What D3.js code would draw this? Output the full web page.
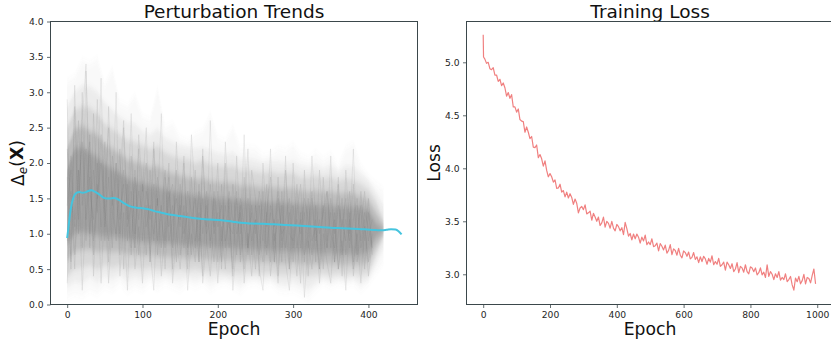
<!DOCTYPE html>
<html>
<head>
<meta charset="utf-8">
<script src="https://cdn.jsdelivr.net/npm/d3@7"></script>
<style>
  body { margin: 0; background: #fff; }
  svg { display: block; font-family: 'DejaVu Sans', sans-serif; }
  .axis text { fill: #262626; font-size: 9.2px; font-family: 'DejaVu Sans', sans-serif; }
  .axis line { stroke: #3b474b; stroke-width: 0.8; }
</style>
</head>
<body>
<div id="chart"></div>
<script>
// ---- perturbation panel: spread of the per-sample curves ----
const bandEpochs = [0, 10, 20, 30, 40, 50, 60, 70, 80, 90, 100, 110, 120, 130, 140, 150, 160, 170, 180, 190,
  200, 210, 220, 230, 240, 250, 260, 270, 280, 290, 300, 310, 320, 330, 340, 350, 360, 370, 380, 390, 400, 410, 420];
const maxEnv = [3.15, 3.22, 3.45, 3.40, 3.47, 3.10, 3.32, 2.85, 2.80, 2.95, 2.65, 2.60, 3.04, 2.50, 2.55, 2.35, 2.30, 2.40, 2.45, 2.68,
  2.35, 2.30, 2.50, 2.20, 2.22, 2.20, 2.10, 2.12, 2.20, 2.17, 2.25, 2.10, 2.05, 2.15, 2.05, 2.12, 1.95, 2.20, 2.26, 1.95, 1.80, 1.70, 1.62];
const hi95 = [2.80, 3.00, 3.10, 3.08, 3.00, 2.85, 2.75, 2.65, 2.58, 2.55, 2.45, 2.40, 2.48, 2.35, 2.30, 2.24, 2.22, 2.20, 2.22, 2.18,
  2.14, 2.12, 2.15, 2.06, 2.06, 2.04, 2.00, 2.02, 2.02, 2.00, 2.02, 1.96, 1.94, 1.98, 1.92, 1.96, 1.88, 1.96, 1.95, 1.84, 1.75, 1.58, 1.40];
const hi90 = [2.50, 2.75, 2.80, 2.78, 2.70, 2.55, 2.48, 2.40, 2.32, 2.30, 2.25, 2.20, 2.24, 2.15, 2.10, 2.06, 2.05, 2.00, 2.04, 1.98,
  1.96, 1.95, 1.96, 1.90, 1.90, 1.88, 1.86, 1.88, 1.85, 1.85, 1.86, 1.80, 1.80, 1.82, 1.78, 1.80, 1.75, 1.78, 1.76, 1.70, 1.62, 1.45, 1.20];
const hi80 = [2.20, 2.48, 2.52, 2.46, 2.40, 2.26, 2.20, 2.13, 2.05, 2.02, 1.98, 1.94, 1.95, 1.89, 1.85, 1.82, 1.80, 1.77, 1.78, 1.75,
  1.73, 1.72, 1.72, 1.68, 1.68, 1.67, 1.65, 1.66, 1.65, 1.64, 1.64, 1.61, 1.60, 1.61, 1.59, 1.60, 1.57, 1.58, 1.57, 1.53, 1.48, 1.30, 1.12];
const hi70 = [1.90, 2.20, 2.22, 2.15, 2.08, 1.98, 1.92, 1.86, 1.78, 1.74, 1.72, 1.68, 1.66, 1.63, 1.60, 1.58, 1.56, 1.54, 1.53, 1.52,
  1.50, 1.50, 1.49, 1.47, 1.46, 1.46, 1.45, 1.45, 1.45, 1.44, 1.43, 1.42, 1.41, 1.41, 1.40, 1.40, 1.39, 1.39, 1.38, 1.37, 1.34, 1.15, 1.05];
const lo30 = [0.85, 1.00, 1.02, 1.00, 0.98, 0.96, 0.96, 0.94, 0.92, 0.90, 0.88, 0.88, 0.86, 0.86, 0.85, 0.84, 0.83, 0.82, 0.82, 0.81,
  0.80, 0.80, 0.79, 0.78, 0.78, 0.77, 0.77, 0.76, 0.75, 0.75, 0.74, 0.74, 0.73, 0.73, 0.72, 0.72, 0.71, 0.71, 0.70, 0.70, 0.75, 0.95, 1.05];
const lo20 = [0.62, 0.75, 0.77, 0.78, 0.74, 0.76, 0.74, 0.75, 0.71, 0.71, 0.69, 0.70, 0.68, 0.68, 0.66, 0.67, 0.65, 0.66, 0.65, 0.63,
  0.64, 0.63, 0.62, 0.61, 0.62, 0.61, 0.60, 0.60, 0.58, 0.58, 0.59, 0.58, 0.56, 0.57, 0.58, 0.57, 0.57, 0.56, 0.57, 0.56, 0.60, 0.82, 1.00];
const lo10 = [0.40, 0.50, 0.52, 0.55, 0.50, 0.55, 0.52, 0.55, 0.50, 0.52, 0.50, 0.52, 0.50, 0.50, 0.48, 0.50, 0.48, 0.50, 0.48, 0.46,
  0.48, 0.46, 0.45, 0.44, 0.46, 0.45, 0.44, 0.45, 0.42, 0.42, 0.44, 0.42, 0.40, 0.42, 0.44, 0.42, 0.44, 0.42, 0.44, 0.42, 0.45, 0.70, 0.95];
const lo5 = [0.25, 0.32, 0.30, 0.38, 0.32, 0.40, 0.36, 0.42, 0.34, 0.38, 0.35, 0.40, 0.36, 0.40, 0.36, 0.35, 0.38, 0.36, 0.38, 0.33,
  0.36, 0.37, 0.34, 0.30, 0.36, 0.37, 0.34, 0.36, 0.30, 0.28, 0.32, 0.28, 0.22, 0.30, 0.36, 0.33, 0.36, 0.34, 0.36, 0.30, 0.36, 0.58, 0.80];
const minEnv = [0.10, 0.15, 0.12, 0.20, 0.15, 0.25, 0.20, 0.30, 0.18, 0.25, 0.20, 0.30, 0.22, 0.30, 0.25, 0.20, 0.30, 0.25, 0.30, 0.20,
  0.28, 0.30, 0.25, 0.18, 0.28, 0.30, 0.25, 0.30, 0.20, 0.18, 0.20, 0.15, 0.08, 0.20, 0.30, 0.25, 0.30, 0.28, 0.30, 0.20, 0.30, 0.45, 0.60];

// a few single curves, every 5 epochs (0..405), for the streaky texture
const traceEpochs = d3.range(0, 410, 5);
const traceA = [0.9, 2.1, 1.2, 2.6, 1.4, 2.2, 1.0, 1.9, 1.3, 2.4,
  1.1, 1.8, 0.8, 2.0, 1.2, 1.7, 0.9, 2.1, 1.0, 1.6,
  1.3, 0.7, 1.9, 1.0, 1.5, 0.8, 1.8, 1.1, 1.4, 0.6,
  1.7, 1.0, 1.3, 0.7, 1.9, 0.9, 1.5, 1.0, 1.2, 0.6,
  1.6, 0.9, 1.4, 0.8, 1.7, 1.0, 1.3, 0.5, 1.5, 0.9,
  1.2, 0.7, 1.6, 0.8, 1.3, 0.6, 1.5, 1.0, 1.1, 0.5,
  1.4, 0.8, 1.2, 0.6, 1.5, 0.9, 1.1, 0.5, 1.4, 0.8,
  1.3, 0.6, 1.0, 1.5, 0.7, 1.2, 0.5, 1.4, 0.8, 1.1,
  0.6, 1.0];
const traceB = [1.8, 0.6, 2.8, 1.0, 3.0, 0.9, 2.4, 0.7, 2.0, 1.1,
  2.3, 0.6, 1.6, 0.9, 2.2, 0.5, 1.7, 0.8, 1.9, 0.7,
  1.5, 2.0, 0.6, 1.7, 0.9, 1.4, 0.5, 1.6, 0.8, 1.9,
  0.7, 1.4, 0.5, 1.8, 0.9, 1.3, 0.4, 1.6, 0.8, 1.5,
  0.6, 1.7, 0.9, 1.2, 0.4, 1.5, 0.7, 1.8, 0.8, 1.3,
  0.5, 1.4, 0.9, 1.7, 0.6, 1.2, 0.4, 1.6, 0.8, 1.3,
  0.6, 1.7, 0.8, 1.3, 0.4, 1.5, 0.9, 1.2, 0.5, 1.6,
  0.8, 1.3, 0.5, 1.2, 0.9, 1.6, 0.6, 1.0, 1.4, 0.5,
  1.3, 0.8];
const traceC = [2.2, 1.5, 1.1, 1.9, 0.8, 3.3, 1.6, 1.2, 2.9, 0.9,
  1.6, 2.5, 1.3, 1.0, 1.8, 2.6, 1.1, 1.4, 0.8, 2.2,
  0.9, 1.6, 1.2, 2.3, 0.7, 1.3, 1.9, 0.9, 1.2, 1.5,
  1.1, 2.0, 0.8, 1.2, 1.5, 0.6, 2.1, 1.1, 1.7, 1.0,
  1.3, 0.5, 2.0, 1.1, 1.0, 1.6, 0.6, 1.2, 2.2, 0.7,
  1.4, 1.0, 0.6, 1.3, 1.8, 0.9, 1.2, 0.6, 1.9, 1.0,
  0.9, 1.3, 1.7, 0.7, 1.0, 1.6, 0.6, 1.9, 1.1, 0.8,
  1.5, 1.0, 1.8, 0.7, 1.2, 0.9, 1.7, 0.6, 1.1, 1.6,
  0.9, 1.2];
const traceD = [2.9, 0.5, 3.1, 1.2, 2.6, 3.4, 0.8, 2.7, 1.5, 3.2,
  0.9, 2.8, 1.4, 3.0, 0.7, 2.5, 1.2, 2.7, 0.8, 2.4,
  1.6, 2.5, 0.6, 2.2, 1.4, 2.7, 0.9, 2.0, 0.5, 2.3,
  1.2, 2.1, 0.7, 2.4, 1.5, 0.6, 2.2, 0.9, 2.6, 1.1,
  2.0, 0.6, 2.3, 1.3, 0.5, 2.1, 1.0, 2.4, 0.7, 1.9,
  1.5, 0.4, 2.0, 1.1, 2.2, 0.6, 1.8, 0.9, 2.1, 0.5,
  2.0, 1.0, 0.3, 1.9, 0.8, 2.1, 1.2, 0.5, 1.8, 0.9,
  2.1, 0.6, 1.7, 0.4, 1.9, 1.0, 2.2, 0.7, 1.6, 0.9,
  1.5, 0.7];
const traceE = [0.3, 1.6, 0.5, 1.9, 0.2, 1.4, 2.3, 0.4, 1.7, 0.3,
  1.5, 0.3, 1.2, 2.0, 0.4, 1.3, 0.2, 1.6, 0.5, 1.1,
  0.3, 1.4, 0.8, 0.2, 1.5, 0.4, 1.1, 1.8, 0.3, 1.0,
  0.5, 1.3, 0.2, 1.0, 0.6, 1.6, 0.3, 0.9, 0.4, 1.2,
  0.3, 1.1, 0.5, 1.5, 0.2, 0.9, 1.4, 0.3, 1.0, 0.4,
  1.2, 0.5, 0.2, 1.3, 0.4, 1.0, 0.3, 1.4, 0.6, 0.2,
  1.1, 0.4, 1.3, 0.1, 0.9, 0.5, 1.2, 0.3, 1.0, 0.6,
  0.3, 1.2, 0.5, 0.9, 0.2, 1.3, 0.4, 1.0, 0.3, 1.2,
  0.4, 0.9];
const traceF = [1.4, 1.9, 0.7, 1.6, 2.3, 1.2, 1.8, 0.9, 1.5, 2.0,
  1.3, 0.9, 2.1, 1.5, 1.0, 1.9, 1.4, 0.7, 1.8, 1.2,
  1.7, 1.1, 1.4, 0.9, 1.8, 1.2, 0.8, 1.5, 1.7, 1.0,
  1.4, 0.8, 1.6, 1.3, 0.8, 1.7, 1.0, 1.4, 0.9, 1.6,
  1.1, 1.4, 0.8, 1.6, 1.2, 0.7, 1.5, 1.1, 0.8, 1.4,
  1.0, 1.6, 1.2, 0.7, 1.4, 1.1, 1.6, 0.8, 1.2, 1.5,
  0.8, 1.2, 1.0, 1.5, 1.2, 0.7, 1.4, 1.0, 1.3, 1.6,
  1.0, 0.8, 1.4, 1.1, 1.5, 0.8, 1.2, 1.5, 0.9, 1.3,
  1.1, 0.8];

// mean curve (cyan)
const meanEpochs = [0, 2, 4, 6, 8, 10, 13, 16, 20, 24, 28, 32, 36, 40, 44, 48, 52, 56, 62, 66, 70, 76, 82, 88, 94,
  100, 108, 116, 124, 132, 140, 150, 160, 170, 180, 190, 200, 210, 220, 230, 245, 260, 275, 290, 305, 320, 335,
  350, 365, 380, 395, 410, 418, 424, 430, 436, 440, 444];
const meanValues = [0.94, 1.12, 1.30, 1.42, 1.50, 1.55, 1.58, 1.59, 1.58, 1.585, 1.605, 1.615, 1.60, 1.575, 1.545, 1.51, 1.50, 1.50,
  1.505, 1.495, 1.47, 1.43, 1.395, 1.375, 1.365, 1.36, 1.345, 1.32, 1.30, 1.28, 1.265, 1.25, 1.235, 1.22, 1.21, 1.20,
  1.195, 1.185, 1.17, 1.155, 1.145, 1.14, 1.135, 1.125, 1.115, 1.105, 1.095, 1.085, 1.078, 1.07, 1.063, 1.052, 1.048,
  1.055, 1.065, 1.06, 1.035, 0.99];

// ---- training loss: epochs 0, 1, then every 5 ----
const lossEpochs = [0, 1].concat(d3.range(5, 1000, 5));
const lossValues = [5.26, 5.05,
  5.03, 4.99, 5.00, 4.94, 4.93, 4.95, 4.88, 4.88, 4.82, 4.84,
  4.78, 4.805, 4.76, 4.68, 4.715, 4.66, 4.695, 4.58, 4.58, 4.53,
  4.56, 4.46, 4.445, 4.44, 4.34, 4.39, 4.34, 4.28, 4.30, 4.20,
  4.195, 4.22, 4.10, 4.13, 4.09, 4.02, 4.07, 3.98, 3.92, 3.95,
  3.92, 3.87, 3.89, 3.81, 3.815, 3.85, 3.775, 3.79, 3.73, 3.775,
  3.72, 3.76, 3.725, 3.66, 3.71, 3.67, 3.58, 3.625, 3.64, 3.61,
  3.655, 3.57, 3.58, 3.595, 3.51, 3.575, 3.54, 3.50, 3.54, 3.46,
  3.485, 3.54, 3.445, 3.50, 3.48, 3.435, 3.50, 3.435, 3.41, 3.47,
  3.45, 3.41, 3.44, 3.375, 3.49, 3.43, 3.36, 3.385, 3.325, 3.38,
  3.335, 3.38, 3.35, 3.295, 3.35, 3.315, 3.37, 3.28, 3.305, 3.28,
  3.335, 3.26, 3.27, 3.295, 3.22, 3.29, 3.265, 3.23, 3.275, 3.20,
  3.225, 3.28, 3.185, 3.24, 3.225, 3.18, 3.245, 3.18, 3.155, 3.22,
  3.205, 3.17, 3.21, 3.145, 3.16, 3.205, 3.14, 3.165, 3.11, 3.165,
  3.12, 3.17, 3.145, 3.095, 3.15, 3.115, 3.175, 3.09, 3.12, 3.095,
  3.15, 3.075, 3.09, 3.115, 3.04, 3.115, 3.09, 3.055, 3.10, 3.025,
  3.05, 3.11, 3.015, 3.075, 3.06, 3.02, 3.09, 3.025, 3.005, 3.07,
  3.06, 3.025, 3.06, 2.995, 3.015, 3.06, 2.995, 3.02, 2.97, 3.09,
  2.98, 3.025, 3.00, 2.95, 3.005, 2.97, 3.025, 2.945, 2.97, 2.95,
  3.005, 2.93, 2.95, 2.98, 2.90, 2.85, 2.965, 2.93, 2.98, 2.91,
  2.94, 3.00, 2.91, 2.97, 2.96, 2.92, 2.99, 3.05, 2.91];

const leftXTicks = [0, 100, 200, 300, 400];
const leftYTicks = [0, 0.5, 1, 1.5, 2, 2.5, 3, 3.5, 4];
const rightXTicks = [0, 200, 400, 600, 800, 1000];
const rightYTicks = [3, 3.5, 4, 4.5, 5];

const width = 831, height = 339;
const frameColor = '#3b474b';

const svg = d3.select('#chart')
  .append('svg')
  .attr('width', width)
  .attr('height', height);

// vertical-only blur so the stacked bands fade instead of stepping
const blur = svg.append('defs').append('filter')
  .attr('id', 'vblur')
  .attr('filterUnits', 'userSpaceOnUse')
  .attr('x', 0).attr('y', 0).attr('width', width).attr('height', height);
blur.append('feGaussianBlur').attr('stdDeviation', '0 3');

function panel(box, xDomain, yDomain, title) {
  const x = d3.scaleLinear().domain(xDomain).range([box.left, box.right]);
  const y = d3.scaleLinear().domain(yDomain).range([box.bottom, box.top]);
  const g = svg.append('g');
  const id = 'clip' + Math.round(box.left);
  g.append('clipPath').attr('id', id)
    .append('rect')
    .attr('x', box.left).attr('y', box.top)
    .attr('width', box.right - box.left).attr('height', box.bottom - box.top);
  const plot = g.append('g').attr('clip-path', `url(#${id})`);

  g.append('text')
    .attr('x', (box.left + box.right) / 2)
    .attr('y', 18)
    .attr('text-anchor', 'middle')
    .style('font-size', '18.5px')
    .style('fill', '#111')
    .text(title);

  g.append('text')
    .attr('x', (box.left + box.right) / 2)
    .attr('y', 334.5)
    .attr('text-anchor', 'middle')
    .style('font-size', '17.2px')
    .style('fill', '#111')
    .text('Epoch');

  return { x, y, g, plot, box };
}

function axes(p, xTicks, yTicks) {
  const { x, y, g, box } = p;
  g.append('g')
    .attr('class', 'axis')
    .attr('transform', `translate(0,${box.bottom})`)
    .call(d3.axisBottom(x).tickValues(xTicks).tickFormat(d3.format('d'))
      .tickSize(3.5).tickPadding(3).tickSizeOuter(0))
    .call(a => a.select('.domain').remove());
  g.append('g')
    .attr('class', 'axis')
    .attr('transform', `translate(${box.left},0)`)
    .call(d3.axisLeft(y).tickValues(yTicks).tickFormat(d3.format('.1f'))
      .tickSize(3.5).tickPadding(3.5).tickSizeOuter(0))
    .call(a => a.select('.domain').remove());
  g.append('rect')
    .attr('x', box.left).attr('y', box.top)
    .attr('width', box.right - box.left).attr('height', box.bottom - box.top)
    .attr('fill', 'none')
    .attr('stroke', frameColor)
    .attr('stroke-width', 1);
}

// ---------- left: Perturbation Trends ----------
const left = panel({ left: 50.5, right: 417.5, top: 21.5, bottom: 304.5 }, [-22.15, 465.15], [0, 4], 'Perturbation Trends');

const bands = [
  { lo: minEnv, hi: maxEnv, op: 0.045 },
  { lo: lo5, hi: hi95, op: 0.1 },
  { lo: lo10, hi: hi90, op: 0.18 },
  { lo: lo20, hi: hi80, op: 0.28 },
  { lo: lo30, hi: hi70, op: 0.36 }
];
const band = d3.area()
  .x(d => left.x(d.e))
  .y0(d => left.y(d.lo))
  .y1(d => left.y(d.hi));

left.plot.append('g')
  .attr('filter', 'url(#vblur)')
  .selectAll('.band')
  .data(bands)
  .join('path')
  .attr('class', 'band')
  .attr('fill', '#777')
  .attr('fill-opacity', d => d.op)
  .attr('d', d => band(bandEpochs.map((e, i) => ({ e, lo: d.lo[i], hi: d.hi[i] }))));

const traceLine = d3.line()
  .x(d => left.x(d[0]))
  .y(d => left.y(d[1]));

left.plot.selectAll('.trace')
  .data([traceA, traceB, traceC, traceD, traceE, traceF])
  .join('path')
  .attr('class', 'trace')
  .attr('fill', 'none')
  .attr('stroke', '#707070')
  .attr('stroke-opacity', 0.13)
  .attr('stroke-width', 0.9)
  .attr('d', vals => traceLine(traceEpochs.map((e, i) => [e, vals[i]])));

left.plot.append('path')
  .attr('fill', 'none')
  .attr('stroke', '#45c4de')
  .attr('stroke-width', 2)
  .attr('d', d3.line().curve(d3.curveMonotoneX)
    .x(d => left.x(d[0]))
    .y(d => left.y(d[1]))(meanEpochs.map((e, i) => [e, meanValues[i]])));

axes(left, leftXTicks, leftYTicks);

const yl = left.g.append('text')
  .attr('transform', `translate(24,${(21.5 + 304.5) / 2}) rotate(-90)`)
  .attr('text-anchor', 'middle')
  .style('font-size', '17.2px')
  .style('fill', '#111');
yl.append('tspan').text('Δ');
yl.append('tspan').attr('dy', '0.25em').style('font-size', '12px').style('font-style', 'italic').text('e');
yl.append('tspan').attr('dy', '-0.25em').text('(');
yl.append('tspan').style('font-weight', 'bold').text('X');
yl.append('tspan').text(')');

// ---------- right: Training Loss ----------
const right = panel({ left: 466.5, right: 833.6, top: 21.5, bottom: 304.5 }, [-50, 1049], [2.715, 5.385], 'Training Loss');

right.plot.append('path')
  .attr('fill', 'none')
  .attr('stroke', '#f08080')
  .attr('stroke-width', 1.2)
  .attr('stroke-linejoin', 'round')
  .attr('d', d3.line()
    .x(d => right.x(d[0]))
    .y(d => right.y(d[1]))(lossEpochs.map((e, i) => [e, lossValues[i]])));

axes(right, rightXTicks, rightYTicks);

right.g.append('text')
  .attr('transform', `translate(440,${(21.5 + 304.5) / 2}) rotate(-90)`)
  .attr('text-anchor', 'middle')
  .style('font-size', '17.2px')
  .style('fill', '#111')
  .text('Loss');
</script>
</body>
</html>
